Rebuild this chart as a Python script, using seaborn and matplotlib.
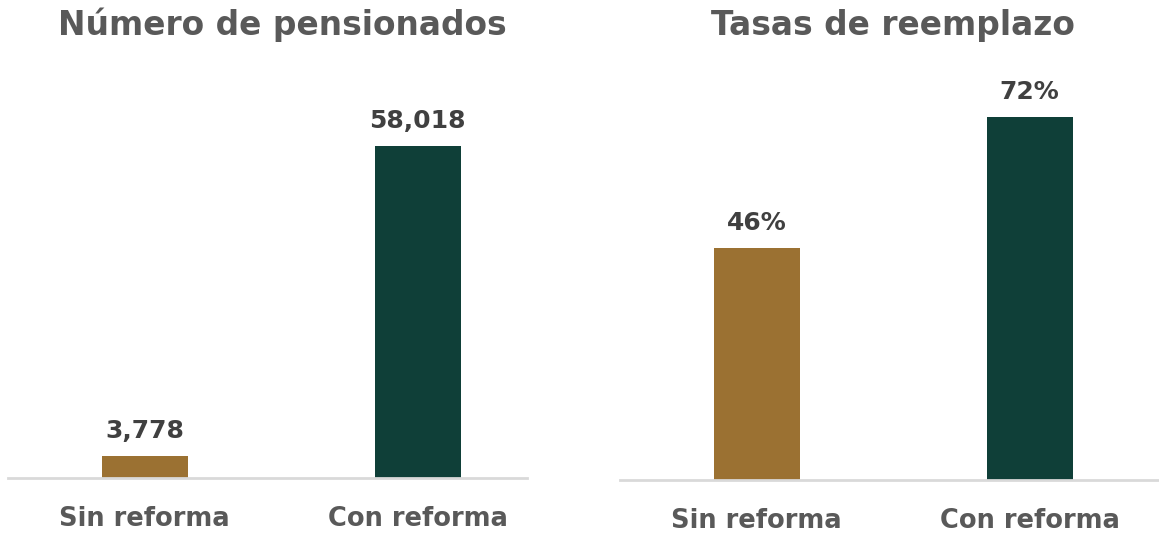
import matplotlib
matplotlib.use("Agg")
import matplotlib.pyplot as plt
import seaborn as sns
import pandas as pd

# Data
categorias = ["Sin reforma", "Con reforma"]
pensionados = [3778, 58018]
tasas = [46, 72]
colores = ["#9B7132", "#0F3F38"]

sns.set_theme(style="white")
plt.rcParams["font.family"] = ["DejaVu Sans"]

fig = plt.figure(figsize=(11.59, 5.34), dpi=100)
ax1 = fig.add_axes([8 / 1159, 56 / 534, 519 / 1159, 400 / 534])
ax2 = fig.add_axes([620 / 1159, 54 / 534, 538 / 1159, 403 / 534])

df1 = pd.DataFrame({"cat": categorias, "val": pensionados})
df2 = pd.DataFrame({"cat": categorias, "val": tasas})

sns.barplot(data=df1, x="cat", y="val", hue="cat", palette=colores,
            width=0.315, legend=False, ax=ax1, saturation=1, linewidth=0)
sns.barplot(data=df2, x="cat", y="val", hue="cat", palette=colores,
            width=0.315, legend=False, ax=ax2, saturation=1, linewidth=0)

ax1.set_xlim(-0.5, 1.40)
ax1.set_ylim(0, 70000)
ax2.set_xlim(-0.5, 1.47)
ax2.set_ylim(0, 80)

etiquetas1 = [f"{v:,}" for v in pensionados]
etiquetas2 = [f"{v}%" for v in tasas]

for ax, etiquetas, vals, off in [
    (ax1, etiquetas1, pensionados, 2300),
    (ax2, etiquetas2, tasas, 2.6),
]:
    for i, (v, t) in enumerate(zip(vals, etiquetas)):
        ax.text(i, v + off, t, ha="center", va="bottom", fontsize=18,
                fontweight="bold", color="#404040")
    for s in ["top", "right", "left"]:
        ax.spines[s].set_visible(False)
    ax.spines["bottom"].set_color("#d9d9d9")
    ax.spines["bottom"].set_linewidth(2)
    ax.set_yticks([])
    ax.set_xlabel("")
    ax.set_ylabel("")
    ax.tick_params(axis="x", length=0, pad=20)
    for lbl in ax.get_xticklabels():
        lbl.set_fontsize(18.5)
        lbl.set_fontweight("bold")
        lbl.set_color("#595959")

fig.text(282 / 1159, 1 - 25 / 534, "Número de pensionados", ha="center", va="center",
         fontsize=23.7, fontweight="bold", color="#595959")
fig.text(893 / 1159, 1 - 25 / 534, "Tasas de reemplazo", ha="center", va="center",
         fontsize=23.7, fontweight="bold", color="#595959")

fig.savefig("out.png", dpi=100)
